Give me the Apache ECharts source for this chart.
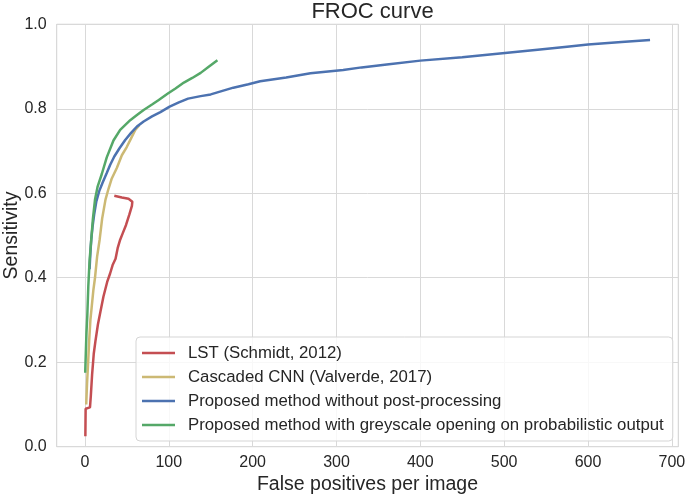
<!DOCTYPE html>
<html>
<head>
<meta charset="utf-8">
<script src="https://cdn.jsdelivr.net/npm/echarts@6/dist/echarts.min.js"></script>
<style>html,body{margin:0;padding:0;background:#fff}#c{width:685px;height:496px}</style>
</head>
<body>
<div id="c"></div>
<script>
var seriesNames = [
  'LST (Schmidt, 2012)',
  'Cascaded CNN (Valverde, 2017)',
  'Proposed method without post-processing',
  'Proposed method with greyscale opening on probabilistic output'
];
var yTicks = [0, 0.2, 0.4, 0.6, 0.8, 1.0];
var xTicks = [0, 100, 200, 300, 400, 500, 600, 700];

var lstData = [[0.5,0.025],[0.8,0.09],[6,0.093],[7,0.12],[8.5,0.17],[10.5,0.22],[12.5,0.25],[15.5,0.29],[18.5,0.32],[22,0.355],[26.5,0.39],[30,0.41],[33,0.43],[36.5,0.445],[39,0.47],[42,0.49],[45,0.505],[49,0.525],[53,0.55],[56,0.57],[56.5,0.58],[52,0.587],[44,0.59],[35,0.594]];
var cnnData = [[1.5,0.10],[2.5,0.15],[3.8,0.20],[5,0.25],[6.5,0.30],[8,0.33],[10,0.37],[12,0.40],[14.5,0.45],[17.5,0.49],[20.5,0.54],[24.5,0.585],[28,0.61],[32,0.635],[38,0.66],[44,0.69],[50,0.71],[55,0.73],[60,0.75],[65,0.762]];
var noPostData = [[5.5,0.42],[6.5,0.46],[7.5,0.49],[9,0.52],[11,0.55],[13.5,0.58],[17,0.605],[21,0.625],[26,0.648],[30,0.667],[35,0.687],[41,0.706],[48,0.726],[55,0.743],[62,0.758],[70,0.77],[80,0.782],[90,0.792],[101,0.805],[112,0.815],[123,0.824],[138,0.83],[150,0.834],[165,0.843],[177,0.85],[195,0.858],[209,0.865],[240,0.874],[269,0.884],[308,0.892],[330,0.898],[360,0.905],[400,0.914],[450,0.922],[495,0.931],[540,0.94],[575,0.947],[600,0.952],[640,0.958],[674,0.963]];
var openingData = [[0.3,0.175],[1,0.22],[1.8,0.27],[2.8,0.31],[4,0.38],[5.5,0.44],[7.5,0.49],[9.5,0.54],[12,0.585],[15,0.615],[20,0.645],[26,0.685],[34,0.725],[42,0.75],[54,0.773],[62,0.785],[70,0.797],[80,0.81],[88,0.821],[98,0.835],[108,0.848],[118,0.862],[128,0.873],[138,0.885],[148,0.90],[158,0.915]];

var colors = ['#C44E52', '#CCB974', '#4C72B0', '#55A868'];
var FONT = 'Liberation Sans, Arial, sans-serif';
var TXT = '#262626';

var chart = echarts.init(document.getElementById('c'), null, {renderer: 'canvas'});
var datasets = [lstData, cnnData, noPostData, openingData];
var series = datasets.map(function (d, i) {
  return {
    name: seriesNames[i],
    type: 'line',
    data: d,
    showSymbol: false,
    symbol: 'none',
    smooth: false,
    lineStyle: {width: 2.5, color: colors[i]},
    itemStyle: {color: colors[i]},
    animation: false,
    z: 2 + i
  };
});

chart.setOption({
  animation: false,
  backgroundColor: '#fff',
  textStyle: {fontFamily: FONT},
  title: {
    text: 'FROC curve',
    left: 367.5,
    top: -4,
    textAlign: 'center',
    textStyle: {fontFamily: FONT, fontSize: 22, fontWeight: 'normal', color: TXT}
  },
  grid: {left: 56.7, top: 24.3, right: 6.7, bottom: 49.3, show: true, borderColor: '#cccccc', borderWidth: 1, containLabel: false, outerBoundsMode: 'none'},
  legend: {
    orient: 'vertical',
    left: 136,
    top: 337,
    padding: [7, 9, 7, 6],
    itemGap: 6,
    itemWidth: 33,
    itemHeight: 2.5,
    icon: 'rect',
    backgroundColor: 'rgba(255,255,255,0.8)',
    borderColor: '#d5d5d5',
    borderWidth: 1,
    borderRadius: 4,
    textStyle: {fontFamily: FONT, fontSize: 16.8, color: TXT, lineHeight: 18, padding: [0, 0, 0, 8]},
    data: seriesNames.map(function (n, i) { return {name: n, itemStyle: {color: colors[i]}}; })
  },
  xAxis: {
    type: 'value',
    min: -33.7,
    max: 707.7,
    splitNumber: 7,
    name: 'False positives per image',
    nameLocation: 'middle',
    nameGap: 28,
    nameMoveOverlap: false,
    nameTextStyle: {fontFamily: FONT, fontSize: 19.5, color: TXT},
    axisLine: {show: false},
    axisTick: {show: false},
    axisLabel: {
      fontFamily: FONT, fontSize: 16, color: TXT, margin: 8,
      showMinLabel: false, showMaxLabel: false,
      formatter: function (v) { return xTicks.indexOf(v) >= 0 ? String(v) : ''; }
    },
    splitLine: {show: true, lineStyle: {color: '#d9d9d9', width: 1}}
  },
  yAxis: {
    type: 'value',
    min: yTicks[0],
    max: yTicks[yTicks.length - 1],
    interval: 0.2,
    name: 'Sensitivity',
    nameLocation: 'middle',
    nameGap: 35,
    nameMoveOverlap: false,
    nameTextStyle: {fontFamily: FONT, fontSize: 19.5, color: TXT},
    axisLine: {show: false},
    axisTick: {show: false},
    axisLabel: {
      fontFamily: FONT, fontSize: 16, color: TXT, margin: 10,
      formatter: function (v) { return v.toFixed(1); }
    },
    splitLine: {show: true, lineStyle: {color: '#d9d9d9', width: 1}}
  },
  series: series
});
</script>
</body>
</html>
